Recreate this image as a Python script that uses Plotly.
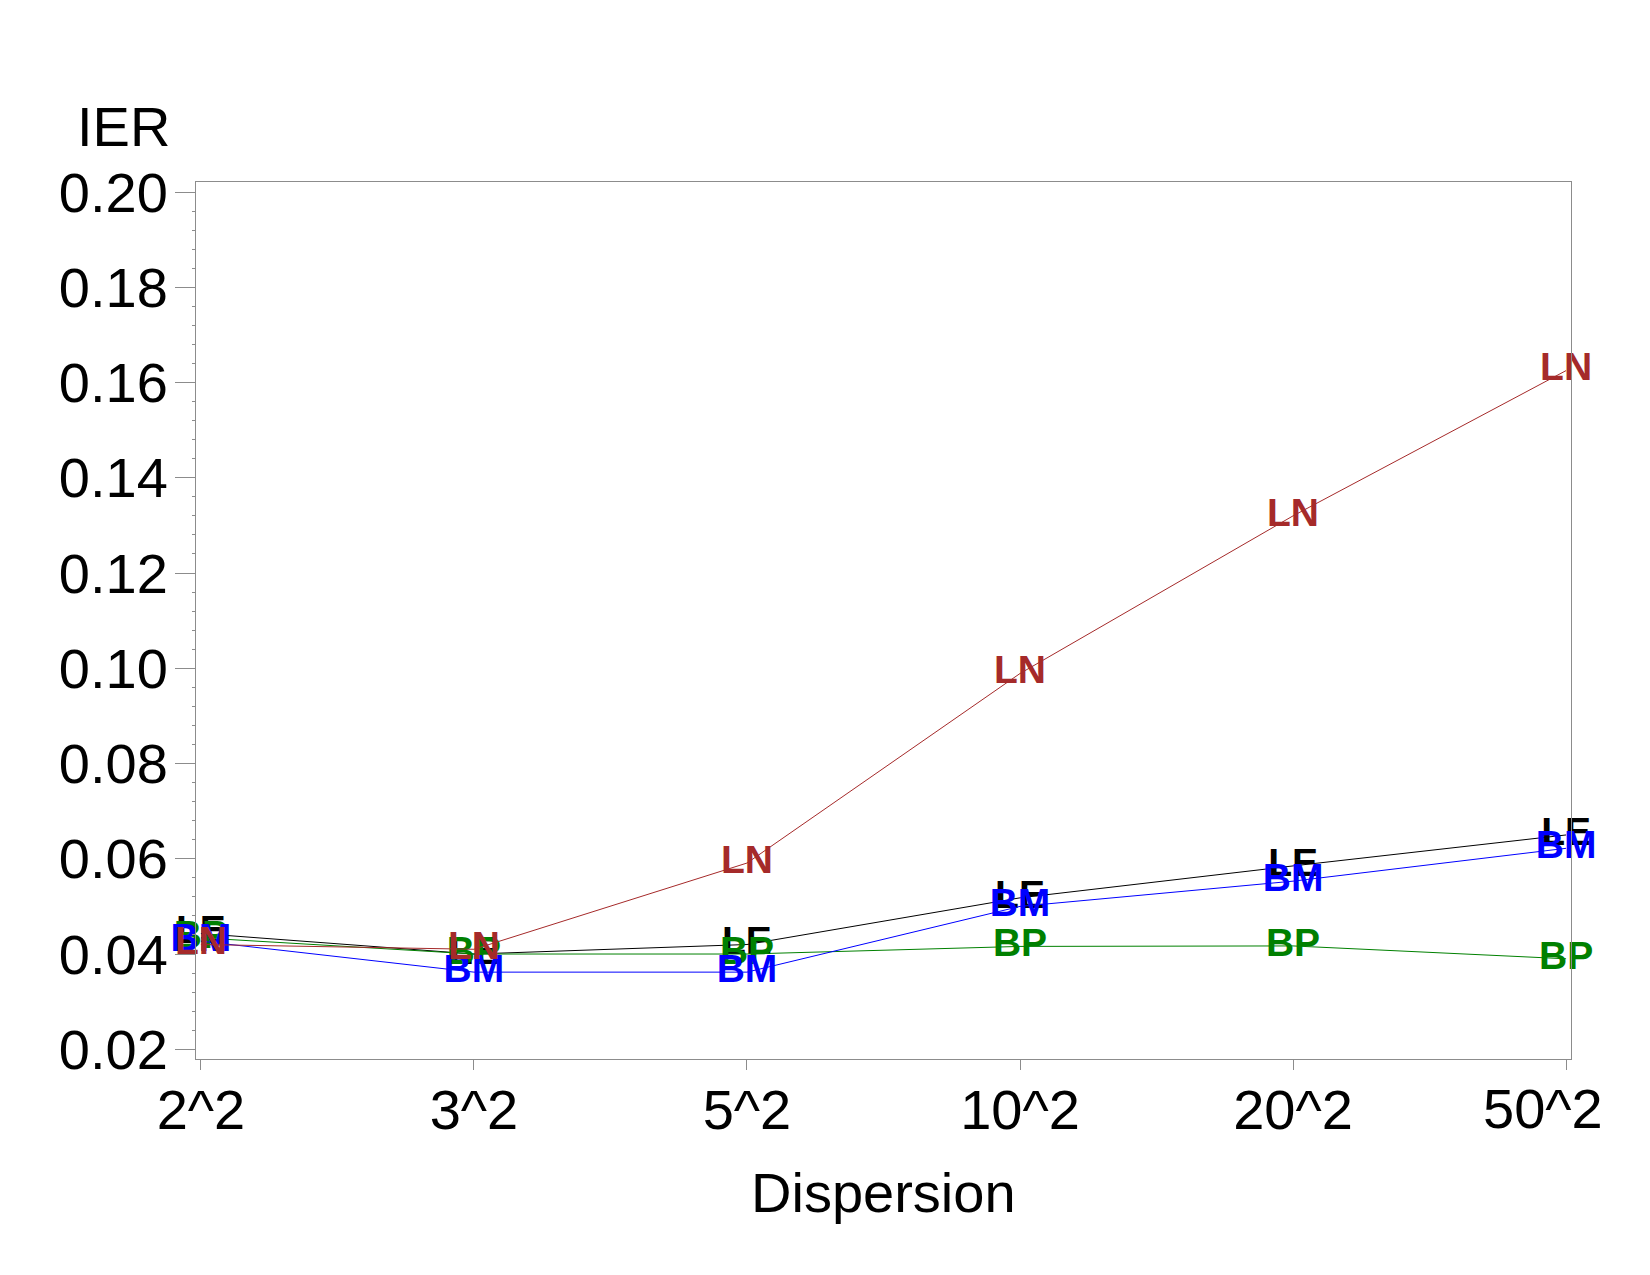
import plotly.graph_objects as go

categories = ["2^2", "3^2", "5^2", "10^2", "20^2", "50^2"]
le_vals = [0.0443, 0.0400, 0.0420, 0.0518, 0.0585, 0.0650]
bp_vals = [0.0434, 0.0400, 0.0400, 0.0416, 0.0417, 0.0390]
bm_vals = [0.0427, 0.0362, 0.0362, 0.0500, 0.0553, 0.0622]
ln_vals = [0.0420, 0.0410, 0.0591, 0.0989, 0.1320, 0.1625]
y_ticks = [0.02, 0.04, 0.06, 0.08, 0.10, 0.12, 0.14, 0.16, 0.18, 0.20]

series = [
    ("LE", le_vals, "#000000"),
    ("BP", bp_vals, "#008000"),
    ("BM", bm_vals, "#0000FF"),
    ("LN", ln_vals, "#A52A2A"),
]

FONT = "Liberation Sans, Arial, sans-serif"
AXCOL = "#8c8c8c"

fig = go.Figure()
for name, vals, color in series:
    fig.add_trace(go.Scatter(
        x=categories, y=vals, mode="lines+text", name=name,
        text=["<b>%s</b>" % name] * len(vals), textposition="middle center",
        textfont=dict(family=FONT, size=39, color=color),
        line=dict(color=color, width=1), cliponaxis=False,
        showlegend=False,
    ))

# tick labels: last one is shifted left in the reference, drawn as annotation
tick_text = categories[:-1] + [""]

fig.update_layout(
    width=1650, height=1275,
    margin=dict(l=196, r=79, t=182, b=216),
    paper_bgcolor="white", plot_bgcolor="white",
    font=dict(family=FONT, size=56, color="black"),
    xaxis=dict(
        type="category", categoryorder="array", categoryarray=categories,
        tickvals=categories, ticktext=tick_text,
        range=[-0.018, 5.018], showgrid=False, zeroline=False,
        showline=True, linecolor=AXCOL, linewidth=1, mirror=True,
        ticks="outside", ticklen=10, tickwidth=1, tickcolor=AXCOL,
        tickfont=dict(family=FONT, size=56, color="black"),
        ticklabelstandoff=-8,
    ),
    yaxis=dict(
        range=[0.01796, 0.2021], tickvals=y_ticks, tickformat=".2f",
        showgrid=False, zeroline=False,
        showline=True, linecolor=AXCOL, linewidth=1, mirror=True,
        ticks="outside", ticklen=20, tickwidth=1, tickcolor=AXCOL,
        tickfont=dict(family=FONT, size=56, color="black"),
        ticklabelstandoff=-4,
        minor=dict(dtick=0.004, tick0=0.0, ticks="outside", ticklen=3,
                   tickcolor=AXCOL, tickwidth=1, showgrid=False),
    ),
    annotations=[
        dict(text="IER", xref="paper", yref="paper", x=(123 - 196) / 1375,
             y=(1059 - 126) / 877, xanchor="center", yanchor="middle",
             showarrow=False, font=dict(family=FONT, size=56, color="black")),
        dict(text="Dispersion", xref="paper", yref="paper", x=0.5,
             y=(1059 - 1192) / 877, xanchor="center", yanchor="middle",
             showarrow=False, font=dict(family=FONT, size=56, color="black")),
        dict(text=categories[-1], xref="x", yref="paper", x=categories[-1],
             xshift=-23, y=(1059 - 1108) / 877, xanchor="center",
             yanchor="middle", showarrow=False,
             font=dict(family=FONT, size=56, color="black")),
    ],
)

fig.write_html("out.html")
